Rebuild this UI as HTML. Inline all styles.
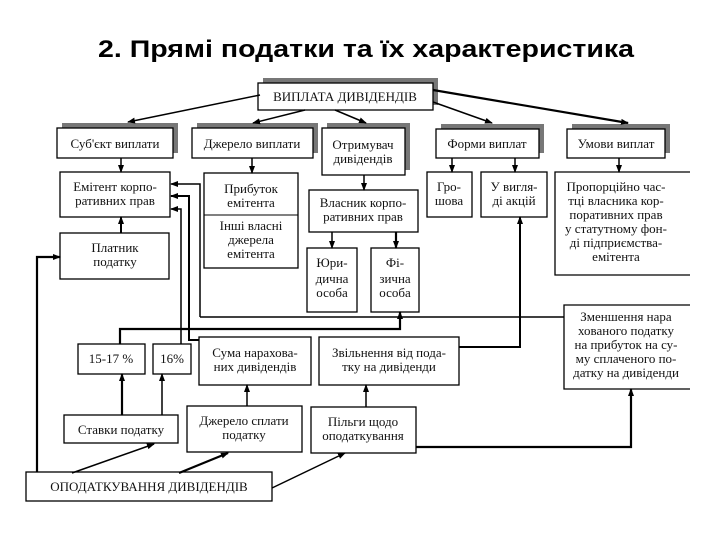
<!DOCTYPE html>
<html><head><meta charset="utf-8"><style>
html,body{margin:0;padding:0;background:#fff;}
svg{display:block;}
text{font-family:"Liberation Serif",serif;font-size:13px;fill:#111;}
.t{font-family:"Liberation Sans",sans-serif;font-size:24px;font-weight:bold;fill:#000;}
</style></head><body>
<svg width="720" height="540" viewBox="0 0 720 540" xmlns="http://www.w3.org/2000/svg">
<defs>
<marker id="a" markerWidth="8" markerHeight="8" refX="7" refY="4" orient="auto" markerUnits="userSpaceOnUse">
<path d="M0,1 L8,4 L0,7 Z" fill="#000"/></marker>
</defs>
<text class="t" x="98" y="57" textLength="536" lengthAdjust="spacingAndGlyphs">2. Прямі податки та їх характеристика</text>

<g fill="#777">
<rect x="263" y="78" width="175" height="27"/>
<rect x="62" y="123" width="116" height="30"/>
<rect x="197" y="123" width="121" height="30"/>
<rect x="327" y="123" width="83" height="47"/>
<rect x="441" y="124" width="103" height="29"/>
<rect x="572" y="124" width="98" height="29"/>
</g>
<g fill="#fff" stroke="#000" stroke-width="1.3">
<rect x="258" y="83" width="175" height="27"/>
<rect x="57" y="128" width="116" height="30"/>
<rect x="192" y="128" width="121" height="30"/>
<rect x="322" y="128" width="83" height="47"/>
<rect x="436" y="129" width="103" height="29"/>
<rect x="567" y="129" width="98" height="29"/>
<rect x="60" y="172" width="110" height="45"/>
<rect x="60" y="233" width="109" height="46"/>
<rect x="204" y="173" width="94" height="95"/>
<rect x="309" y="190" width="109" height="42"/>
<rect x="307" y="248" width="50" height="64"/>
<rect x="371" y="248" width="48" height="64"/>
<rect x="427" y="172" width="45" height="45"/>
<rect x="481" y="172" width="66" height="45"/>
<path d="M690,172 H555 V275 H690" fill="none"/>
<path d="M690,305 H564 V389 H690" fill="none"/>
<rect x="78" y="344" width="67" height="30"/>
<rect x="153" y="344" width="38" height="30"/>
<rect x="199" y="337" width="112" height="48"/>
<rect x="319" y="337" width="140" height="48"/>
<rect x="64" y="415" width="114" height="28"/>
<rect x="187" y="406" width="115" height="46"/>
<rect x="311" y="407" width="105" height="46"/>
<rect x="26" y="472" width="246" height="29"/>
</g>
<line x1="204" y1="215" x2="298" y2="215" stroke="#000" stroke-width="1"/>

<g stroke="#000" stroke-width="1.5" fill="none" marker-end="url(#a)">
<line x1="260" y1="95" x2="128" y2="122"/>
<line x1="305" y1="110" x2="253" y2="123"/>
<line x1="335" y1="110" x2="366" y2="123"/>
<line x1="433" y1="102" x2="492" y2="123"/>
<line x1="433" y1="90" x2="628" y2="123" stroke-width="2.2"/>
<line x1="121" y1="158" x2="121" y2="172"/>
<line x1="121" y1="233" x2="121" y2="217" stroke-width="2"/>
<line x1="252" y1="158" x2="252" y2="173"/>
<line x1="364" y1="175" x2="364" y2="190"/>
<line x1="332" y1="232" x2="332" y2="248"/>
<line x1="396" y1="232" x2="396" y2="248" stroke-width="2.2"/>
<line x1="452" y1="158" x2="452" y2="172"/>
<line x1="515" y1="158" x2="515" y2="172"/>
<line x1="619" y1="158" x2="619" y2="172"/>
<path d="M200,317 V184 H171"/>
<path d="M199,340 H189 V196 H171" stroke-width="2"/>
<path d="M181,344 V209 H171"/>
<path d="M37,472 V257 H60" stroke-width="2.2"/>
<path d="M120,344 V329 H400 V312" stroke-width="2.2"/>
<path d="M459,347 H520 V217" stroke-width="2"/>
<path d="M416,447 H631 V389" stroke-width="2.2"/>
<line x1="122" y1="415" x2="122" y2="374" stroke-width="2.2"/>
<line x1="162" y1="415" x2="162" y2="374"/>
<line x1="247" y1="406" x2="247" y2="385"/>
<line x1="366" y1="407" x2="366" y2="385"/>
<line x1="72" y1="473" x2="154" y2="444"/>
<line x1="179" y1="473" x2="228" y2="453" stroke-width="2.2"/>
<line x1="272" y1="488" x2="345" y2="453"/>
</g>
<line x1="200" y1="317" x2="564" y2="317" stroke="#000" stroke-width="1.5"/>

<g text-anchor="middle">
<text x="345" y="101">ВИПЛАТА ДИВІДЕНДІВ</text>
<text x="115" y="148">Суб'єкт виплати</text>
<text x="252" y="148">Джерело виплати</text>
<text x="363" y="149">Отримувач</text><text x="363" y="163">дивідендів</text>
<text x="487" y="148">Форми виплат</text>
<text x="616" y="148">Умови виплат</text>
<text x="115" y="191">Емітент корпо-</text><text x="115" y="205">ративних прав</text>
<text x="115" y="252">Платник</text><text x="115" y="266">податку</text>
<text x="251" y="193">Прибуток</text><text x="251" y="207">емітента</text>
<text x="251" y="230">Інші власні</text><text x="251" y="244">джерела</text><text x="251" y="258">емітента</text>
<text x="363" y="207">Власник корпо-</text><text x="363" y="221">ративних прав</text>
<text x="332" y="267">Юри-</text><text x="332" y="283">дична</text><text x="332" y="297">особа</text>
<text x="395" y="267">Фі-</text><text x="395" y="283">зична</text><text x="395" y="297">особа</text>
<text x="449" y="191">Гро-</text><text x="449" y="205">шова</text>
<text x="514" y="191">У вигля-</text><text x="514" y="205">ді акцій</text>
<text x="616" y="191">Пропорційно час-</text><text x="616" y="205">тці власника кор-</text><text x="616" y="219">поративних прав</text><text x="616" y="233">у статутному фон-</text><text x="616" y="247">ді підприємства-</text><text x="616" y="261">емітента</text>
<text x="626" y="321">Зменшення нара</text><text x="626" y="335">хованого податку</text><text x="626" y="349">на прибуток на су-</text><text x="626" y="363">му сплаченого по-</text><text x="626" y="377">датку на дивіденди</text>
<text x="111" y="363">15-17 %</text>
<text x="172" y="363">16%</text>
<text x="255" y="357">Сума нарахова-</text><text x="255" y="371">них дивідендів</text>
<text x="389" y="357">Звільнення від пода-</text><text x="389" y="371">тку на дивіденди</text>
<text x="121" y="434">Ставки податку</text>
<text x="244" y="425">Джерело сплати</text><text x="244" y="439">податку</text>
<text x="363" y="426">Пільги щодо</text><text x="363" y="440">оподаткування</text>
<text x="149" y="491">ОПОДАТКУВАННЯ ДИВІДЕНДІВ</text>
</g>
</svg>
</body></html>
